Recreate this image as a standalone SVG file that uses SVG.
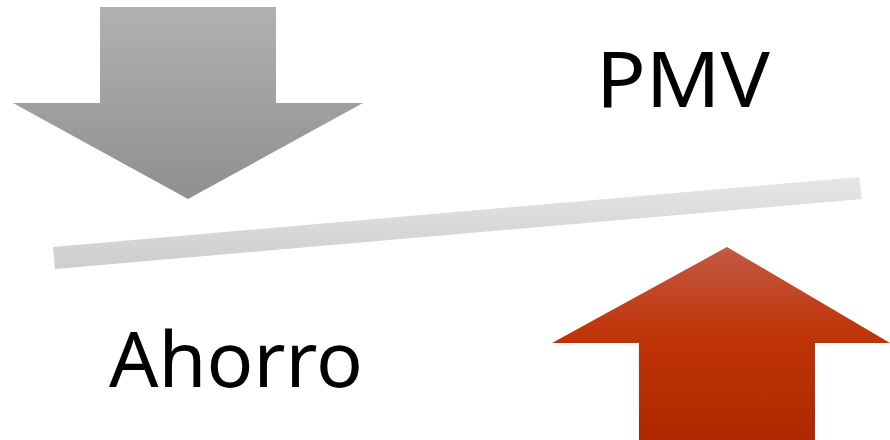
<svg xmlns="http://www.w3.org/2000/svg" width="890" height="440" viewBox="0 0 890 440">
  <defs>
    <linearGradient id="grayFill" gradientUnits="userSpaceOnUse" x1="0" y1="7" x2="0" y2="199">
      <stop offset="0" stop-color="#b1b1b1"/>
      <stop offset="1" stop-color="#8f8f8f"/>
    </linearGradient>
    <linearGradient id="redFill" gradientUnits="userSpaceOnUse" x1="0" y1="247" x2="0" y2="440">
      <stop offset="0" stop-color="#c25a44"/>
      <stop offset="0.45" stop-color="#bf3408"/>
      <stop offset="1" stop-color="#b02800"/>
    </linearGradient>
    <linearGradient id="barFill" gradientUnits="userSpaceOnUse" x1="0" y1="177" x2="0" y2="269">
      <stop offset="0" stop-color="#e6e6e6"/>
      <stop offset="1" stop-color="#cdcdcd"/>
    </linearGradient>
  </defs>
  <style>
    .label { font-family: "Noto Sans", "Open Sans", sans-serif; font-size: 77px; fill: #000; }
  </style>

  <g id="arrow-down">
    <polygon points="100,7 276,7 276,103 363,103 188,199 13,103 100,103" fill="url(#grayFill)"/>
  </g>

  <g id="balance-bar">
    <polygon points="53,247 859,177 862,199 55,269" fill="url(#barFill)"/>
  </g>

  <g id="arrow-up">
    <polygon points="727,247 890,343 815,343 815,440 639,440 639,343 552,343" fill="url(#redFill)"/>
  </g>

  <g id="label-pmv">
    <text class="label" x="596" y="107" textLength="174" lengthAdjust="spacingAndGlyphs">PMV</text>
  </g>

  <g id="label-ahorro">
    <text class="label" x="109" y="387" textLength="254" lengthAdjust="spacingAndGlyphs">Ahorro</text>
  </g>
</svg>
